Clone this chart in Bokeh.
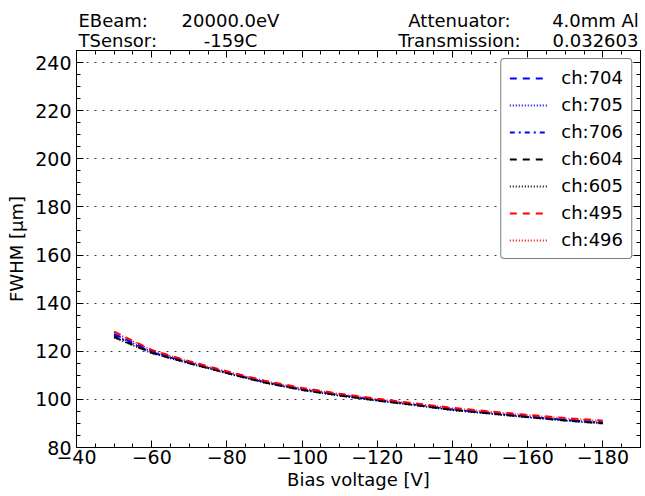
from bokeh.plotting import figure
from bokeh.layouts import column
from bokeh.models import (Range1d, SingleIntervalTicker, LinearAxis, Label, Legend, LegendItem,
                          CustomJSTickFormatter)
from bokeh.embed import file_html
from bokeh.resources import INLINE

# ---- data ----
bias = [-50, -60, -70, -80, -90, -100, -110, -120, -130, -140, -150, -160, -170, -180]
ch704 = [127.2, 120.0, 115.4, 111.2, 107.3, 104.3, 101.9, 99.8, 97.9, 95.9, 94.4, 92.9, 91.6, 90.4]
ch705 = [126.8, 119.7, 115.2, 111.0, 107.1, 104.1, 101.7, 99.6, 97.7, 95.7, 94.2, 92.7, 91.4, 90.2]
ch706 = [126.5, 119.5, 115.2, 111.1, 107.2, 104.2, 101.8, 99.7, 97.8, 95.8, 94.3, 92.8, 91.5, 90.3]
ch604 = [125.9, 119.3, 115.0, 110.9, 107.0, 103.9, 101.6, 99.5, 97.6, 95.6, 94.1, 92.6, 91.2, 90.0]
ch605 = [125.7, 119.2, 114.9, 110.8, 106.9, 103.8, 101.5, 99.4, 97.5, 95.5, 94.0, 92.5, 91.1, 89.9]
ch495 = [128.2, 120.6, 115.9, 111.7, 107.8, 104.8, 102.4, 100.3, 98.4, 96.5, 95.0, 93.6, 92.3, 91.2]
ch496 = [127.9, 120.4, 115.7, 111.5, 107.6, 104.6, 102.2, 100.1, 98.2, 96.3, 94.8, 93.4, 92.1, 91.0]

series_names = ["ch:704", "ch:705", "ch:706", "ch:604", "ch:605", "ch:495", "ch:496"]
series_values = [ch704, ch705, ch706, ch604, ch605, ch495, ch496]
series_colors = ["#0000ff", "#0000ff", "#0000ff", "#000000", "#000000", "#ff0000", "#ff0000"]
series_dash = ["7 6", "1 2", "5 4 2 4", "7 6", "1 2", "7 6", "1 2"]

header_left = [("EBeam:", "20000.0eV"), ("TSensor:", "-159C")]
header_right = [("Attenuator:", "4.0mm Al"), ("Transmission:", "0.032603")]

FONT = "DejaVu Sans"
W = 645
HEAD_H = 50
BL, BR = 76, 5

# ---- header strip (frame aligned with the main plot frame) ----
h = figure(width=W, height=HEAD_H, x_range=Range1d(BL, W - BR), y_range=Range1d(0, HEAD_H),
           x_axis_type=None, y_axis_type=None, min_border_left=BL, min_border_right=BR,
           min_border_top=0, min_border_bottom=0, outline_line_color=None,
           toolbar_location=None, output_backend="svg")
h.grid.visible = False
hdr = dict(text_font=FONT, text_font_size="18px", text_color="black", text_baseline="alphabetic")
rows_y = [HEAD_H - 20, HEAD_H - 40]
for (lab, val), y in zip(header_left, rows_y):
    h.add_layout(Label(x=78, y=y, text=lab, text_align="left", **hdr))
    h.add_layout(Label(x=230, y=y, text=val, text_align="center", **hdr))
for (lab, val), y in zip(header_right, rows_y):
    h.add_layout(Label(x=459, y=y, text=lab, text_align="center", **hdr))
    h.add_layout(Label(x=595, y=y, text=val, text_align="center", **hdr))

# ---- main plot ----
p = figure(width=W, height=496 - HEAD_H, x_range=Range1d(-40, -190), y_range=Range1d(80, 245),
           output_backend="svg", toolbar_location=None,
           min_border_left=BL, min_border_right=BR, min_border_top=0, min_border_bottom=49,
           background_fill_color="white", border_fill_color="white")

p.outline_line_color = "black"
p.outline_line_width = 1

xt = SingleIntervalTicker(interval=20, num_minor_ticks=4)
yt = SingleIntervalTicker(interval=20, num_minor_ticks=4)
minus_fmt = CustomJSTickFormatter(code="return String(tick).replace('-', '\u2212');")
blank_fmt = CustomJSTickFormatter(code="return '';")

for ax, t in ((p.xaxis[0], xt), (p.yaxis[0], yt)):
    ax.ticker = t
    ax.major_tick_in = 7
    ax.major_tick_out = 0
    ax.minor_tick_in = 4
    ax.minor_tick_out = 0
    ax.axis_line_color = "black"
    ax.major_tick_line_color = "black"
    ax.minor_tick_line_color = "black"
    ax.major_label_text_font = FONT
    ax.major_label_text_font_size = "19px"
    ax.major_label_text_color = "black"
    ax.axis_label_text_font = FONT
    ax.axis_label_text_font_size = "18px"
    ax.axis_label_text_font_style = "normal"
    ax.axis_label_text_color = "black"

p.xaxis[0].formatter = minus_fmt
p.xaxis[0].axis_label = "Bias voltage [V]"
p.xaxis[0].major_label_standoff = 2
p.xaxis[0].axis_label_standoff = 2
p.yaxis[0].axis_label = "FWHM [\u03bcm]"
p.yaxis[0].major_label_standoff = 5
p.yaxis[0].axis_label_standoff = 5

for loc, t in (("above", xt), ("right", yt)):
    ax = LinearAxis(ticker=t, formatter=blank_fmt,
                    major_label_text_font_size="0px", major_label_standoff=0,
                    axis_label_standoff=0, axis_label_text_font_size="0px",
                    major_tick_in=7, major_tick_out=0, minor_tick_in=4, minor_tick_out=0,
                    axis_line_color="black", major_tick_line_color="black",
                    minor_tick_line_color="black")
    p.add_layout(ax, loc)

p.xgrid.visible = False
p.ygrid.ticker = yt
p.ygrid.grid_line_color = "#000000"
p.ygrid.grid_line_alpha = 0.75
p.ygrid.grid_line_dash = "2 6"
p.ygrid.grid_line_width = 1

items = []
for name, vals, col, dash in zip(series_names, series_values, series_colors, series_dash):
    r = p.line(bias, vals, line_color=col, line_dash=dash, line_width=1.8)
    items.append(LegendItem(label=name, renderers=[r]))

legend = Legend(items=items, location="top_right", margin=8, padding=8,
                spacing=6, label_height=20, glyph_height=20, glyph_width=38,
                label_standoff=14, label_text_font=FONT, label_text_font_size="18px",
                label_text_color="black",
                border_line_color="black", border_line_width=1, background_fill_alpha=1)
if "border_radius" in Legend.properties():
    legend.border_radius = 4
p.add_layout(legend)

layout = column(h, p, spacing=0)
open("out.html", "w").write(file_html(layout, INLINE))
